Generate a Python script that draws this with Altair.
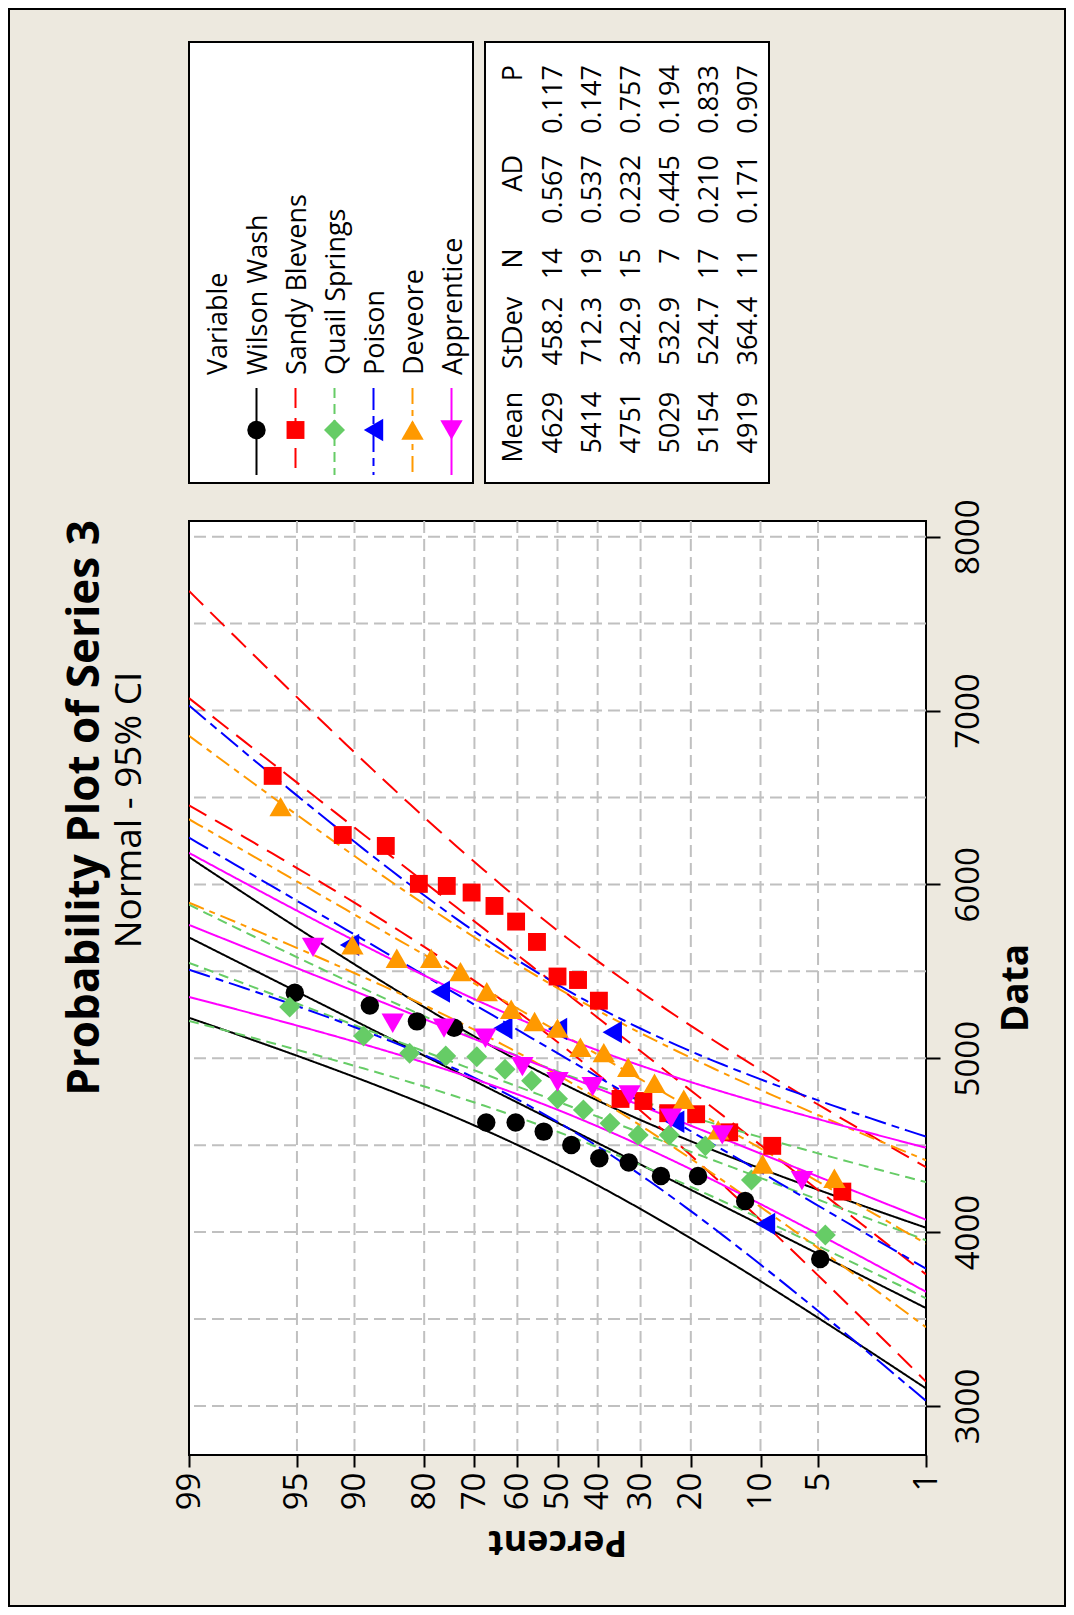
import altair as alt
import pandas as pd
from statistics import NormalDist

ND = NormalDist()
FONT = "Open Sans"
BG = "#EDE9DF"

# ---------------- data ----------------
series = ["Wilson Wash", "Sandy Blevens", "Quail Springs", "Poison", "Deveore", "Apprentice"]
colors = ["#000000", "#FF0000", "#66CC66", "#0000FF", "#FF9900", "#FF00FF"]
shapes = ["circle", "square", "diamond", "triangle-left", "triangle-up", "triangle-down"]
marker_sizes = [340, 320, 440, 500, 500, 500]
dashes = [[1, 0], [20, 10], [10, 6], [22, 6, 8, 6], [16, 6, 6, 6], [1, 0]]

means = [4629, 5414, 4751, 5029, 5154, 4919]
stdevs = [458.2, 712.3, 342.9, 532.9, 524.7, 364.4]
counts = [14, 19, 15, 7, 17, 11]
ad_values = [0.567, 0.537, 0.232, 0.445, 0.210, 0.171]
p_values = [0.117, 0.147, 0.757, 0.194, 0.833, 0.907]

wilson_wash = [3845, 4179, 4323, 4323, 4400, 4425, 4501, 4578, 4630, 4630, 5175, 5212, 5303, 5377]
wilson_wash_pct = [4.861, 11.806, 18.750, 25.694, 32.639, 39.583, 46.528, 53.472, 60.417, 67.361,
                   74.306, 81.250, 88.194, 95.139]
sandy_blevens = [4233, 4496, 4574, 4678, 4684, 4754, 4766, 5331, 5450, 5470, 5669, 5786, 5876, 5953,
                 5991, 6003, 6221, 6284, 6624]
sandy_blevens_pct = [3.608, 8.763, 13.918, 19.072, 24.227, 29.381, 34.536, 39.691, 44.845, 50.0,
                     55.155, 60.309, 65.464, 70.619, 75.773, 80.928, 86.082, 91.237, 96.392]
quail_springs = [3984, 4300, 4496, 4559, 4559, 4626, 4703, 4767, 4871, 4937, 5009, 5013, 5029, 5128, 5295]
quail_springs_pct = [4.545, 11.039, 17.532, 24.026, 30.519, 37.013, 43.506, 50.0, 56.494, 62.987,
                     69.481, 75.974, 82.468, 88.961, 95.455]
poison = [4047, 4635, 5150, 5168, 5172, 5383, 5652]
poison_pct = [9.459, 22.973, 36.486, 50.0, 63.514, 77.027, 90.541]
deveore = [4310, 4392, 4588, 4764, 4856, 4948, 5032, 5063, 5173, 5211, 5282, 5383, 5498, 5575, 5575,
           5652, 6447]
deveore_pct = [4.023, 9.770, 15.517, 21.264, 27.011, 32.759, 38.506, 44.253, 50.0, 55.747, 61.494,
               67.241, 72.989, 78.736, 84.483, 90.230, 95.977]
apprentice = [4296, 4559, 4655, 4789, 4837, 4865, 4952, 5115, 5173, 5201, 5638]
apprentice_pct = [6.140, 14.912, 23.684, 32.456, 41.228, 50.0, 58.772, 67.544, 76.316, 85.088, 93.860]

values_list = [wilson_wash, sandy_blevens, quail_springs, poison, deveore, apprentice]
pct_list = [wilson_wash_pct, sandy_blevens_pct, quail_springs_pct, poison_pct, deveore_pct, apprentice_pct]

pct_ticks = [1, 5, 10, 20, 30, 40, 50, 60, 70, 80, 90, 95, 99]
data_ticks = [3000, 4000, 5000, 6000, 7000, 8000]
data_grid = [3000, 3500, 4000, 4500, 5000, 5500, 6000, 6500, 7000, 7500, 8000]
data_domain = [2718, 8090]

# ---------------- layout (page pixels) ----------------
X0, Y0 = 189, 521          # plot area top-left on the page
W, H = 737, 934            # plot area size
PAD = {"left": X0 - 8, "top": Y0 - 8, "right": 1058 - (X0 - 8) - W, "bottom": 1599 - (Y0 - 8) - H}


def z_of(p):
    return ND.inv_cdf(p / 100.0)


ZMAX = z_of(99)

xscale = alt.Scale(domain=[-ZMAX, ZMAX], reverse=True, nice=False, zero=False)
yscale = alt.Scale(domain=data_domain, nice=False, zero=False)

label_expr = ""
for p in sorted(pct_ticks, reverse=True)[:-1]:
    label_expr += f"datum.value > {z_of(p) - 0.02:.4f} ? '{p}' : "
label_expr += f"'{min(pct_ticks)}'"

xaxis = alt.Axis(orient="bottom", values=[z_of(p) for p in pct_ticks], labelExpr=label_expr,
                 grid=False, domain=False, ticks=True, tickSize=12, tickWidth=2, tickColor="black",
                 labelAngle=270, labelAlign="right", labelBaseline="middle", labelPadding=5,
                 labelFont=FONT, labelFontSize=33, labelColor="black", labelFlush=False,
                 labelOverlap=False, title=None)
yaxis = alt.Axis(orient="right", values=data_ticks, format="d", grid=False, domain=False, ticks=True,
                 tickSize=14, tickWidth=2, tickColor="black", labelAngle=270, labelAlign="center",
                 labelBaseline="alphabetic", labelPadding=38, labelFont=FONT, labelFontSize=33,
                 labelColor="black", labelFlush=False, labelOverlap=False, title=None)

color_scale = alt.Scale(domain=series, range=colors)

# points
prow = []
for s, vals, pcts, sz in zip(series, values_list, pct_list, marker_sizes):
    for v, p in zip(vals, pcts):
        prow.append({"series": s, "value": v, "z": z_of(p), "msize": sz})
pts = pd.DataFrame(prow)

# fitted line and 95% CI from the printed Mean / StDev / N
lrow = []
steps = 80
zs = [-ZMAX + 2 * ZMAX * k / steps for k in range(steps + 1)]
for s, m, sd, n in zip(series, means, stdevs, counts):
    for z in zs:
        fit = m + sd * z
        half = 1.96 * sd * ((1 + z * z / 2.0) / n) ** 0.5
        lrow.append({"series": s, "key": s + "|fit", "z": z, "value": fit})
        lrow.append({"series": s, "key": s + "|lo", "z": z, "value": fit - half})
        lrow.append({"series": s, "key": s + "|hi", "z": z, "value": fit + half})
lines_df = pd.DataFrame(lrow)

grid_style = dict(color="#C0C0C0", strokeWidth=2, strokeDash=[12, 6])
xgrid = alt.Chart(pd.DataFrame({"z": [z_of(p) for p in pct_ticks[1:-1]]})).mark_rule(**grid_style).encode(
    x=alt.X("z:Q", scale=xscale, axis=xaxis))
ygrid = alt.Chart(pd.DataFrame({"value": data_grid})).mark_rule(**grid_style).encode(
    y=alt.Y("value:Q", scale=yscale, axis=yaxis))

lines = alt.Chart(lines_df).mark_line(clip=True, strokeWidth=2).encode(
    x=alt.X("z:Q", scale=xscale, axis=xaxis),
    y=alt.Y("value:Q", scale=yscale, axis=yaxis),
    color=alt.Color("series:N", scale=color_scale, legend=None),
    strokeDash=alt.StrokeDash("series:N", scale=alt.Scale(domain=series, range=dashes), legend=None),
    detail="key:N",
)

points = alt.Chart(pts).mark_point(filled=True, opacity=1, strokeWidth=0, clip=True).encode(
    x=alt.X("z:Q", scale=xscale, axis=xaxis),
    y=alt.Y("value:Q", scale=yscale, axis=yaxis),
    color=alt.Color("series:N", scale=color_scale, legend=None),
    shape=alt.Shape("series:N", scale=alt.Scale(domain=series, range=shapes), legend=None),
    size=alt.Size("msize:Q", scale=None, legend=None),
)

one = pd.DataFrame({"k": [0]})


def text_at(t, px, py, size, bold=False, align="left", angle=270, baseline="alphabetic"):
    return alt.Chart(one).mark_text(
        text=t, font=FONT, fontSize=size, fontWeight="bold" if bold else "normal",
        align=align, baseline=baseline, angle=angle, color="black",
    ).encode(x=alt.value(px - X0), y=alt.value(py - Y0))


def box(x1, y1, x2, y2, fill="white", opacity=1):
    return alt.Chart(one).mark_rect(fill=fill, fillOpacity=opacity, stroke="black", strokeWidth=2).encode(
        x=alt.value(x1 - X0), x2=alt.value(x2 - X0), y=alt.value(y1 - Y0), y2=alt.value(y2 - Y0))


deco = [box(9, 9, 1065, 1606, opacity=0), box(189, 42, 473, 483), box(485, 42, 769, 483)]

# titles
deco.append(text_at("Probability Plot of Series 3", 99, 808, 44, bold=True, align="center"))
deco.append(text_at("Normal - 95% CI", 141, 810, 37, align="center"))
deco.append(text_at("Data", 1028, 988, 37, bold=True, align="center"))
deco.append(text_at("Percent", X0 + W / 2, 1531, 36, bold=True, align="center", angle=180))

# legend
deco.append(text_at("Variable", 227, 375, 27))
for i, (s, c, sh, sz, d) in enumerate(zip(series, colors, shapes, marker_sizes, dashes)):
    base = 266.7 + 39 * i
    lx = 256.5 + 39 * i
    deco.append(text_at(s, base, 375, 27))
    deco.append(alt.Chart(one).mark_rule(color=c, strokeWidth=2, strokeDash=d).encode(
        x=alt.value(lx - X0), y=alt.value(388 - Y0), y2=alt.value(475 - Y0)))
    deco.append(alt.Chart(one).mark_point(shape=sh, filled=True, size=sz, color=c, opacity=1,
                                          strokeWidth=0).encode(
        x=alt.value(lx - X0), y=alt.value(430 - Y0)))

# statistics table
col_end = {"Mean": 391.7, "StDev": 296.7, "N": 248.3, "AD": 155, "P": 65}
for h, yend in col_end.items():
    deco.append(text_at(h, 521.7, yend, 27, align="right"))
for i in range(len(series)):
    base = 561.7 + 39 * i
    cells = {"Mean": f"{means[i]}", "StDev": f"{stdevs[i]:.1f}", "N": f"{counts[i]}",
             "AD": f"{ad_values[i]:.3f}", "P": f"{p_values[i]:.3f}"}
    for h, yend in col_end.items():
        deco.append(text_at(cells[h], base, yend, 27, align="right"))

chart = alt.layer(xgrid, ygrid, lines, points, *deco).properties(
    width=W, height=H, autosize=alt.AutoSizeParams(type="none"), padding=PAD,
).configure(background=BG).configure_view(stroke="black", strokeWidth=2, fill="white")

chart.save("out.html", embed_options={"renderer": "svg", "actions": False})
